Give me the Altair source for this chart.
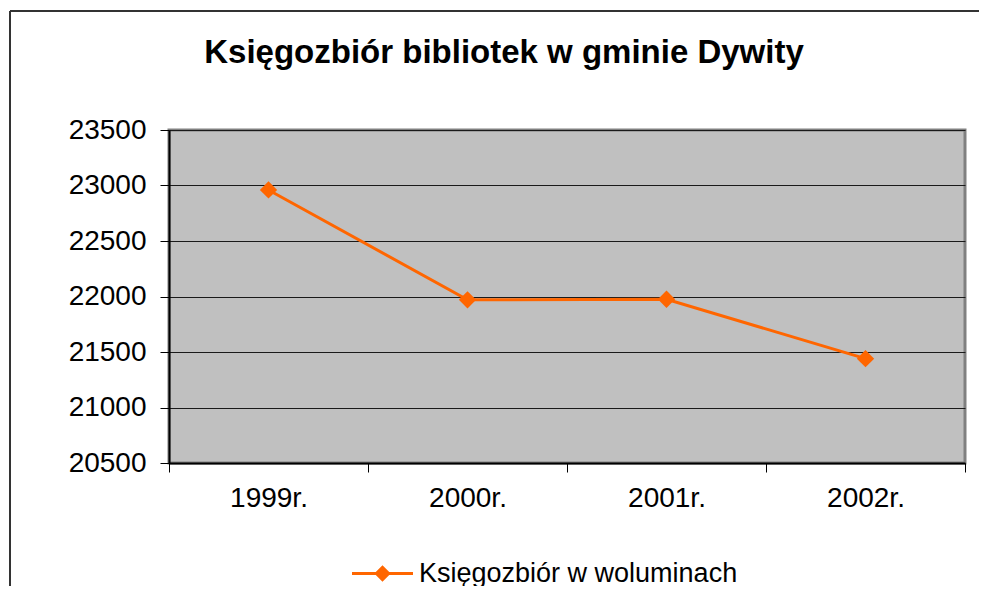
import altair as alt
import pandas as pd

years = ["1999r.", "2000r.", "2001r.", "2002r."]
volumes = [22960, 21970, 21975, 21440]
series_name = "Księgozbiór w woluminach"
y_ticks = [20500, 21000, 21500, 22000, 22500, 23000, 23500]
title_text = "Księgozbiór bibliotek w gminie Dywity"

df = pd.DataFrame({"year": years, "value": volumes, "series": [series_name] * len(years)})

FONT = "Liberation Sans"
ORANGE = "#FF6600"

x_enc = alt.X(
    "year:N",
    sort=years,
    scale=alt.Scale(paddingInner=0, paddingOuter=0),
    axis=alt.Axis(
        title=None, tickBand="extent", tickSize=9, tickColor="#000000", tickWidth=1,
        domainColor="#000000", domainWidth=2, labelFontSize=28, labelFont=FONT,
        labelColor="#000000", labelPadding=12, labelAngle=0, grid=False,
    ),
)
y_enc = alt.Y(
    "value:Q",
    scale=alt.Scale(domain=[20500, 23500], nice=False, zero=False),
    axis=alt.Axis(
        title=None, values=y_ticks, format="d", tickSize=9, tickColor="#000000",
        domainColor="#000000", domainWidth=2, labelFontSize=28, labelFont=FONT,
        labelColor="#000000", labelPadding=14, grid=True, gridColor="#1a1a1a",
        gridWidth=1,
    ),
)

legend_path = "M-1,-0.05H1V0.05H-1Z M0,-0.27L0.27,0L0,0.27L-0.27,0Z"
color_enc = alt.Color(
    "series:N",
    scale=alt.Scale(range=[ORANGE]),
    legend=alt.Legend(
        title=None, orient="none", legendX=183, legendY=413, symbolType=legend_path,
        symbolSize=3721, symbolStrokeWidth=0, symbolFillColor=ORANGE,
        labelFontSize=27, labelFont=FONT, labelColor="#000000", labelOffset=6,
        labelLimit=600,
    ),
)

line = alt.Chart(df).mark_line(strokeWidth=3, color=ORANGE).encode(x=x_enc, y=y_enc)
points = alt.Chart(df).mark_point(shape="diamond", filled=True, size=300, opacity=1).encode(
    x=x_enc, y=y_enc, color=color_enc
)

frame_df = pd.DataFrame({"k": [0]})
frame_top = alt.Chart(frame_df).mark_rule(color="#333333", strokeWidth=2).encode(
    x=alt.value(-159), x2=alt.value(900), y=alt.value(-119)
)
frame_left = alt.Chart(frame_df).mark_rule(color="#333333", strokeWidth=2).encode(
    x=alt.value(-159), y=alt.value(-119), y2=alt.value(700)
)
title_df = pd.DataFrame({"t": [title_text]})
title = alt.Chart(title_df).mark_text(
    font=FONT, fontSize=33, fontWeight="bold", color="#000000", align="center",
    baseline="alphabetic",
).encode(text="t:N", x=alt.value(335), y=alt.value(-67))

chart = (
    alt.layer(frame_top, frame_left, title, line, points)
    .properties(
        width=796,
        height=333,
        autosize=alt.AutoSizeParams(type="none"),
        padding={"left": 161, "top": 122, "right": 14, "bottom": 123},
        background="#FFFFFF",
    )
    .configure_view(fill="#C0C0C0", stroke="#808080", strokeWidth=3)
)

chart.save("out.html", embed_options={"renderer": "svg", "actions": False})
